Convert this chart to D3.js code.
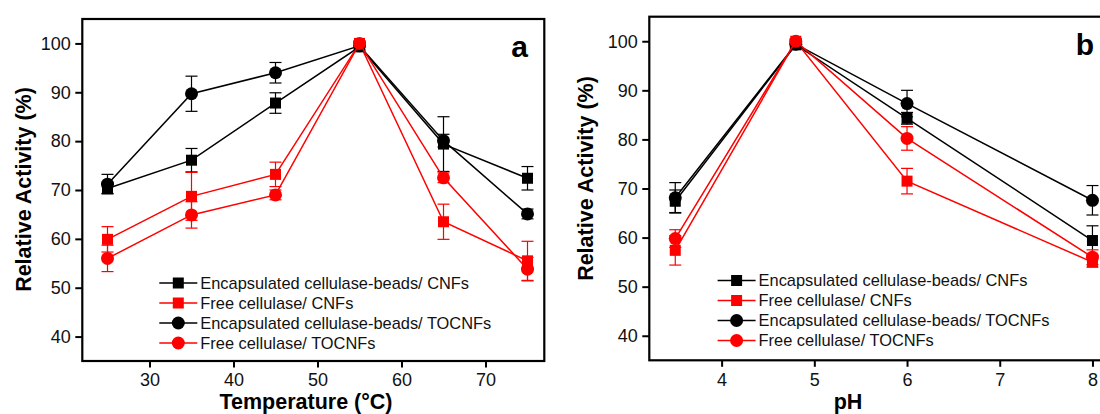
<!DOCTYPE html>
<html>
<head>
<meta charset="utf-8">
<script src="https://cdn.jsdelivr.net/npm/d3@7"></script>
<style>
  body { margin: 0; background: #fff; }
  svg { display: block; font-family: "Liberation Sans", Arial, sans-serif; }
</style>
</head>
<body>
<div id="chart"></div>
<script>
// panel a: temperature
var temps = [25, 35, 45, 55, 65, 75];
var encCnfA = [70.3, 76.1, 87.8, 99.3, 79.4, 72.4];
var encCnfAErr = [1.0, 2.4, 2.1, 0.8, 5.6, 2.4];
var freeCnfA = [59.9, 68.7, 73.2, 100, 63.5, 55.5];
var freeCnfAErr = [2.6, 4.9, 2.5, 0.5, 3.6, 4.0];
var encTocnfA = [71.2, 89.7, 94.0, 99.5, 80.1, 65.1];
var encTocnfAErr = [2.0, 3.6, 2.1, 0.8, 1.3, 1.0];
var freeTocnfA = [56.0, 64.9, 69.0, 100, 72.5, 53.8];
var freeTocnfAErr = [2.7, 2.7, 1.0, 0.5, 1.0, 2.4];

// panel b: pH
var phs = [3.5, 4.8, 6, 8];
var encCnfB = [67.4, 99.3, 84.3, 59.4];
var encCnfBErr = [2.3, 1.0, 1.2, 3.0];
var freeCnfB = [57.4, 100, 71.5, 55.0];
var freeCnfBErr = [3.0, 0.5, 2.6, 1.0];
var encTocnfB = [68.1, 99.4, 87.3, 67.6];
var encTocnfBErr = [3.1, 0.8, 2.7, 3.0];
var freeTocnfB = [59.8, 100, 80.2, 56.0];
var freeTocnfBErr = [1.8, 0.5, 2.4, 1.5];

var seriesNames = ["Encapsulated cellulase-beads/ CNFs", "Free cellulase/ CNFs",
                   "Encapsulated cellulase-beads/ TOCNFs", "Free cellulase/ TOCNFs"];
var seriesColors = ["#000000", "#ff0000", "#000000", "#ff0000"];
var seriesShapes = ["square", "square", "circle", "circle"];

var yTicks = [40, 50, 60, 70, 80, 90, 100];
var tempTicks = [30, 40, 50, 60, 70];
var phTicks = [4, 5, 6, 7, 8];

var svg = d3.select("#chart").append("svg")
    .attr("width", 1100)
    .attr("height", 414);

function marker(sel, shape, color) {
    if (shape === "square") {
        sel.append("rect")
            .attr("x", -5.5).attr("y", -5.5)
            .attr("width", 11).attr("height", 11)
            .attr("fill", color);
    } else {
        sel.append("circle")
            .attr("r", 6.5)
            .attr("fill", color);
    }
}

function drawPanel(p) {
    var x = d3.scaleLinear().domain(p.xDomain).range([p.left, p.right]);
    var y = d3.scaleLinear().domain([35, 105]).range([p.bottom, p.top]);

    var g = svg.append("g");

    g.append("g")
        .attr("transform", "translate(" + p.left + ",0)")
        .call(d3.axisLeft(y).tickValues(yTicks).tickSize(7).tickPadding(4.5))
        .call(function (a) { a.select(".domain").remove(); });

    g.append("g")
        .attr("transform", "translate(0," + p.bottom + ")")
        .call(d3.axisBottom(x).tickValues(p.xTicks).tickFormat(d3.format("d"))
            .tickSize(6.5).tickPadding(6))
        .call(function (a) { a.select(".domain").remove(); });

    g.selectAll(".tick line").attr("stroke", "#000").attr("stroke-width", 2);
    g.selectAll(".tick text").attr("font-size", 18).attr("fill", "#111")
        .attr("font-family", "Liberation Sans, Arial, sans-serif");

    var line = d3.line()
        .x(function (d) { return x(d.x); })
        .y(function (d) { return y(d.y); });

    p.series.forEach(function (s, i) {
        var pts = p.xs.map(function (xv, j) {
            return { x: xv, y: s.values[j], e: s.err[j] };
        });
        var color = seriesColors[i];

        g.append("path")
            .datum(pts)
            .attr("d", line)
            .attr("fill", "none")
            .attr("stroke", color)
            .attr("stroke-width", 1.5);

        var eb = g.append("g").selectAll("g").data(pts).enter().append("g")
            .attr("stroke", color).attr("stroke-width", 1.2);
        eb.append("line")
            .attr("x1", function (d) { return x(d.x); })
            .attr("x2", function (d) { return x(d.x); })
            .attr("y1", function (d) { return y(d.y - d.e); })
            .attr("y2", function (d) { return y(d.y + d.e); });
        [-1, 1].forEach(function (sgn) {
            eb.append("line")
                .attr("x1", function (d) { return x(d.x) - 6; })
                .attr("x2", function (d) { return x(d.x) + 6; })
                .attr("y1", function (d) { return y(d.y + sgn * d.e); })
                .attr("y2", function (d) { return y(d.y + sgn * d.e); });
        });

        g.append("g").selectAll("g").data(pts).enter().append("g")
            .attr("transform", function (d) { return "translate(" + x(d.x) + "," + y(d.y) + ")"; })
            .each(function () { marker(d3.select(this), seriesShapes[i], color); });
    });

    // frame
    g.append("rect")
        .attr("x", p.left).attr("y", p.top)
        .attr("width", p.right - p.left).attr("height", p.bottom - p.top)
        .attr("fill", "none").attr("stroke", "#000").attr("stroke-width", 2.2);

    // legend
    seriesNames.forEach(function (name, i) {
        var ly = p.legendY + i * 20;
        var lg = g.append("g").attr("transform", "translate(" + p.legendX + "," + ly + ")");
        lg.append("line")
            .attr("x1", -19).attr("x2", 19)
            .attr("stroke", seriesColors[i]).attr("stroke-width", 1.5);
        marker(lg, seriesShapes[i], seriesColors[i]);
        lg.append("text")
            .attr("x", 22).attr("dy", "0.35em")
            .attr("font-size", 16.4).attr("fill", "#111")
            .text(name);
    });

    g.append("text")
        .attr("x", p.labelX).attr("y", p.labelY)
        .attr("text-anchor", "end")
        .attr("font-size", 30).attr("font-weight", "bold")
        .text(p.label);

    g.append("text")
        .attr("transform", "translate(" + p.yTitleX + "," + p.yTitleY + ") rotate(-90)")
        .attr("text-anchor", "middle")
        .attr("font-size", 21.5).attr("font-weight", "bold")
        .text("Relative Activity (%)");

    g.append("text")
        .attr("x", p.xTitleX).attr("y", 409)
        .attr("text-anchor", "middle")
        .attr("font-size", 21.5).attr("font-weight", "bold")
        .text(p.xTitle);
}

drawPanel({
    xs: temps, xDomain: [22, 77], xTicks: tempTicks,
    left: 82.3, right: 544.3, top: 19, bottom: 361,
    series: [
        { values: encCnfA, err: encCnfAErr },
        { values: freeCnfA, err: freeCnfAErr },
        { values: encTocnfA, err: encTocnfAErr },
        { values: freeTocnfA, err: freeTocnfAErr }
    ],
    legendX: 178.3, legendY: 283,
    label: "a", labelX: 528, labelY: 56.5,
    yTitleX: 31, yTitleY: 189.5,
    xTitle: "Temperature (\u00b0C)", xTitleX: 306
});

drawPanel({
    xs: phs, xDomain: [3.22, 8.2], xTicks: phTicks,
    left: 649.3, right: 1111, top: 16.7, bottom: 360.3,
    series: [
        { values: encCnfB, err: encCnfBErr },
        { values: freeCnfB, err: freeCnfBErr },
        { values: encTocnfB, err: encTocnfBErr },
        { values: freeTocnfB, err: freeTocnfBErr }
    ],
    legendX: 736.6, legendY: 280.5,
    label: "b", labelX: 1094, labelY: 55,
    yTitleX: 593, yTitleY: 178.5,
    xTitle: "pH", xTitleX: 848
});
</script>
</body>
</html>
